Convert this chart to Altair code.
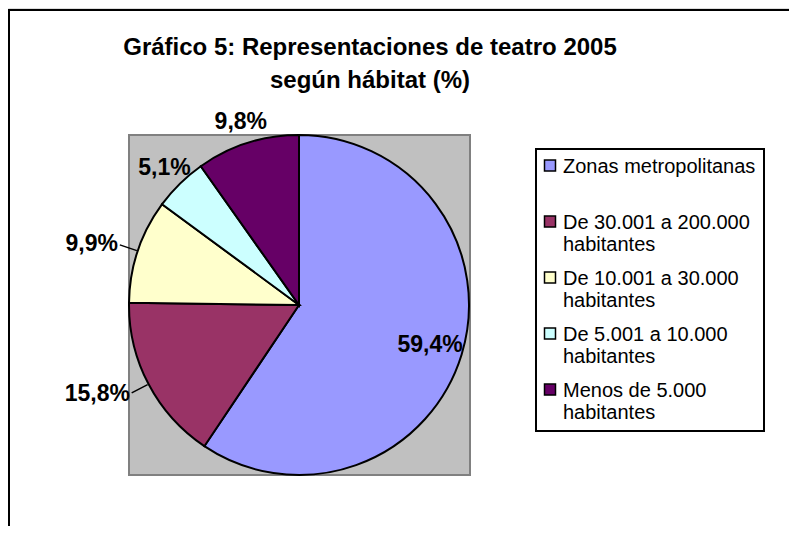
import altair as alt
import pandas as pd

categories = [
    "Zonas metropolitanas",
    "De 30.001 a 200.000 habitantes",
    "De 10.001 a 30.000 habitantes",
    "De 5.001 a 10.000 habitantes",
    "Menos de 5.000 habitantes",
]
values = [59.4, 15.8, 9.9, 5.1, 9.8]
value_labels = ["59,4%", "15,8%", "9,9%", "5,1%", "9,8%"]
colors = ["#9999FF", "#993366", "#FFFFCC", "#CCFFFF", "#660066"]
title_lines = ["Gráfico 5: Representaciones de teatro 2005", "según hábitat (%)"]

df = pd.DataFrame({"cat": categories, "value": values, "label": value_labels,
                   "idx": list(range(len(categories)))})
one = pd.DataFrame({"k": [0]})

W, H = 781, 518
CX, CY, R = 291, 297, 170
FONT = "Liberation Sans"

frame_top = alt.Chart(one).mark_rule(color="black", strokeWidth=2).encode(
    x=alt.value(0), x2=alt.value(W), y=alt.value(2))
frame_left = alt.Chart(one).mark_rule(color="black", strokeWidth=2).encode(
    x=alt.value(1), y=alt.value(2), y2=alt.value(H))

plot_bg = alt.Chart(one).mark_rect(fill="#C0C0C0", stroke="#808080", strokeWidth=2).encode(
    x=alt.value(121), x2=alt.value(462), y=alt.value(127), y2=alt.value(467))

legend_box = alt.Chart(one).mark_rect(fill="white", stroke="black", strokeWidth=2).encode(
    x=alt.value(528), x2=alt.value(756), y=alt.value(141), y2=alt.value(423))

title = alt.Chart(one).mark_text(
    text=title_lines, font=FONT, fontSize=24, fontWeight="bold", align="center",
    baseline="alphabetic", lineHeight=33, color="black",
).encode(x=alt.value(362), y=alt.value(47))

theta = alt.Theta("value:Q", stack=True)
order = alt.Order("idx:Q")

# square symbol drawn a little lower so it lines up with the first text line
symbol_path = "M -1 0.56 L 1 0.56 L 1 2.56 L -1 2.56 Z"

pie = alt.Chart(df).mark_arc(outerRadius=R, stroke="black", strokeWidth=2).encode(
    theta=theta,
    order=order,
    x=alt.value(CX), y=alt.value(CY),
    color=alt.Color(
        "cat:N",
        scale=alt.Scale(domain=categories, range=colors),
        legend=alt.Legend(
            title=None, orient="none", legendX=532, legendY=139, direction="vertical",
            symbolType=symbol_path, symbolSize=121, symbolStrokeColor="black",
            symbolStrokeWidth=1.5, labelFont=FONT, labelFontSize=20, labelColor="black",
            labelLimit=400, labelOffset=3, rowPadding=4, padding=0,
            labelBaseline="top",
            labelExpr="indexof(datum.label, ' habitantes') > 0 ? [replace(datum.label, ' habitantes', ''), 'habitantes'] : [datum.label, ' ']",
        ),
    ),
)

def label_layer(cond, radius, align):
    return alt.Chart(df).transform_calculate(
        t=f"({cond}) ? datum.label : ''"
    ).mark_text(
        radius=radius, font=FONT, fontSize=23, fontWeight="bold", align=align,
        baseline="middle", color="black",
    ).encode(theta=theta, order=order, x=alt.value(CX), y=alt.value(CY), text="t:N")

inside = label_layer("datum.idx == 0", 137, "center")
top_labels = label_layer("datum.idx >= 3", 192, "center")
left_labels = label_layer("datum.idx == 1 || datum.idx == 2", 191, "right")

leaders = alt.Chart(df).transform_joinaggregate(
    total="sum(value)"
).transform_window(
    cum="sum(value)", sort=[alt.SortField("idx")], frame=[None, 0]
).transform_calculate(
    mid="(datum.cum - datum.value / 2) / datum.total * 2 * PI"
).transform_filter(
    "datum.idx == 1 || datum.idx == 2"
).mark_arc(radius=171, radius2=189, stroke="black", strokeWidth=1.5).encode(
    theta=alt.Theta("mid:Q", scale=None), theta2="mid:Q",
    x=alt.value(CX), y=alt.value(CY),
)

chart = alt.layer(
    frame_top, frame_left, plot_bg, legend_box, title, pie, leaders,
    inside, top_labels, left_labels,
).resolve_scale(theta="independent").properties(
    width=W, height=H, padding=0, autosize=alt.AutoSizeParams(type="none"),
).configure_view(stroke=None).configure(background="white")

chart.save("out.html", embed_options={"renderer": "svg", "actions": False})
